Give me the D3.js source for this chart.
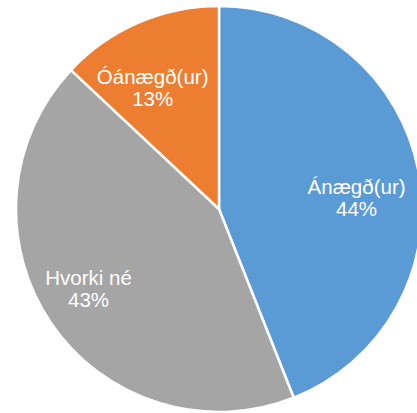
<!DOCTYPE html>
<html>
<head>
<meta charset="utf-8">
<script src="https://cdn.jsdelivr.net/npm/d3@7"></script>
<style>
  html, body { margin: 0; padding: 0; background: #fff; }
  svg { display: block; }
</style>
</head>
<body>
<svg id="chart" width="417" height="413"></svg>
<script>
// Satisfaction survey shares
const categories = ["Ánægð(ur)", "Hvorki né", "Óánægð(ur)"];
const shares = [44, 43, 13];
const colors = ["#5B9BD5", "#A5A5A5", "#ED7D31"];

const width = 417, height = 413;
const cx = 219, cy = 209, radius = 203;

const svg = d3.select("#chart");
const g = svg.append("g").attr("transform", `translate(${cx},${cy})`);

const data = categories.map((c, i) => ({ name: c, value: shares[i], color: colors[i] }));

const pie = d3.pie().sort(null).value(d => d.value);
const arcs = pie(data);

const arc = d3.arc().innerRadius(0).outerRadius(radius);

g.selectAll("path.slice")
  .data(arcs)
  .join("path")
  .attr("class", "slice")
  .attr("d", arc)
  .attr("fill", d => d.data.color)
  .attr("stroke", "#fff")
  .attr("stroke-width", 2.5)
  .attr("stroke-linejoin", "round");

// Label anchor radius and angle nudges (label kept clear of the right edge)
const labelRadius = [138, 153, 138];
const angleShift = [0.108, 0.047, -0.093];

const labels = g.selectAll("text.label")
  .data(arcs)
  .join("text")
  .attr("class", "label")
  .attr("text-anchor", "middle")
  .attr("fill", "#fff")
  .style("font-family", "'Liberation Sans', Arial, Helvetica, sans-serif")
  .style("font-size", "20.5px")
  .attr("transform", (d, i) => {
    const a = (d.startAngle + d.endAngle) / 2 + angleShift[i];
    const r = labelRadius[i];
    return `translate(${r * Math.sin(a)},${-r * Math.cos(a)})`;
  });

labels.append("tspan")
  .attr("x", 0)
  .attr("dy", "-0.2em")
  .text(d => d.data.name);

labels.append("tspan")
  .attr("x", 0)
  .attr("dy", "1.1em")
  .text(d => d3.format(".0f")(d.data.value) + "%");
</script>
</body>
</html>
